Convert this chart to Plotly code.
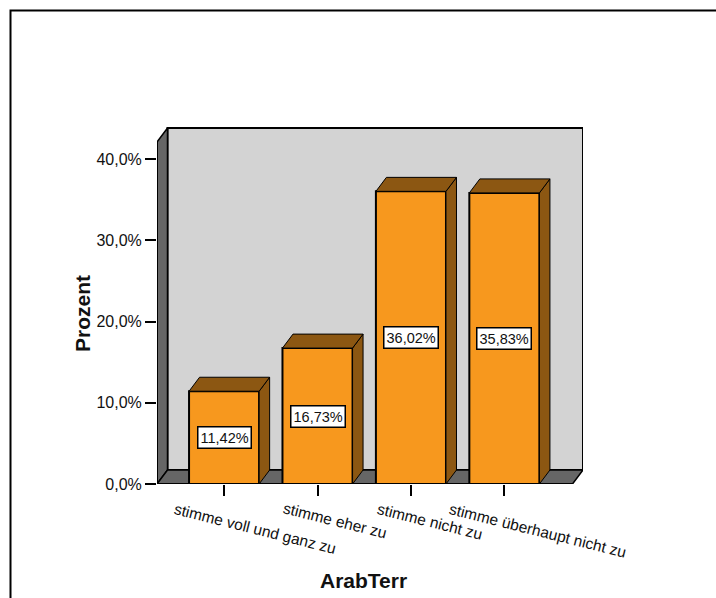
import math
import plotly.graph_objects as go

# ---- data ---------------------------------------------------------------
categories = [
    "stimme voll und ganz zu",
    "stimme eher zu",
    "stimme nicht zu",
    "stimme überhaupt nicht zu",
]
percent = [11.42, 16.73, 36.02, 35.83]
y_ticks = [0, 10, 20, 30, 40]

x_title = "ArabTerr"
y_title = "Prozent"

# ---- styling ------------------------------------------------------------
FONT = "Liberation Sans, Arial, sans-serif"
FRONT = "#F7981E"      # bar front face
SHADE = "#8C5712"      # bar side / top faces
WALL = "#D3D3D3"       # back wall
FLOOR = "#666666"      # floor and side wall
TEXT = "#111111"

W, H = 716, 598
L_PX, R_PX, T_PX, B_PX = 157, 583, 127, 484   # plot area in pixels

BAR_W = 0.75           # bar width in category units
DX = 0.1125            # depth offset, x (category units)
DY = 1.72              # depth offset, y (percent)
X_LEFT = -0.718        # front-left edge of the floor
X_RIGHT = 3.729        # front-right edge of the floor
WALL_TOP = 42.1        # height of the front edge of the side wall
Y_MAX = 43.94

x_pos = list(range(len(categories)))


def pct(v, digits):
    return f"{v:.{digits}f}".replace(".", ",") + "%"


def px_to_paper_x(px):
    return (px - L_PX) / (R_PX - L_PX)


def px_to_paper_y(py):
    return (B_PX - py) / (B_PX - T_PX)


fig = go.Figure()

# front faces of the bars
fig.add_trace(go.Bar(
    x=x_pos, y=percent, width=BAR_W,
    marker=dict(color=FRONT, line=dict(color="black", width=2)),
    hoverinfo="skip", showlegend=False,
))

# side and top faces of the bars
side_x, side_y, top_x, top_y = [], [], [], []
for xc, v in zip(x_pos, percent):
    lft, rgt = xc - BAR_W / 2, xc + BAR_W / 2
    side_x += [rgt, rgt + DX, rgt + DX, rgt, rgt, None]
    side_y += [0, DY, v + DY, v, 0, None]
    top_x += [lft, lft + DX, rgt + DX, rgt, lft, None]
    top_y += [v, v + DY, v + DY, v, v, None]

for xs, ys in ((side_x, side_y), (top_x, top_y)):
    fig.add_trace(go.Scatter(
        x=xs, y=ys, mode="lines", fill="toself", fillcolor=SHADE,
        line=dict(color="black", width=1), hoverinfo="skip",
        showlegend=False,
    ))

# walls and floor, beneath the bars
shapes = [
    dict(type="rect", xref="x", yref="y", layer="below",
         x0=X_LEFT + DX, x1=X_RIGHT + DX, y0=DY, y1=WALL_TOP + DY,
         fillcolor=WALL, line=dict(color="black", width=2)),
    dict(type="path", xref="x", yref="y", layer="below",
         path=(f"M {X_LEFT},0 L {X_LEFT},{WALL_TOP} "
               f"L {X_LEFT + DX},{WALL_TOP + DY} L {X_LEFT + DX},{DY} Z"),
         fillcolor=FLOOR, line=dict(color="black", width=1.5)),
    dict(type="path", xref="x", yref="y", layer="below",
         path=(f"M {X_LEFT},0 L {X_RIGHT},0 "
               f"L {X_RIGHT + DX},{DY} L {X_LEFT + DX},{DY} Z"),
         fillcolor=FLOOR, line=dict(color="black", width=1.5)),
    # front edges (axis lines)
    dict(type="line", xref="x", yref="y", layer="above",
         x0=X_LEFT, x1=X_LEFT, y0=0, y1=WALL_TOP,
         line=dict(color="black", width=2)),
    dict(type="line", xref="x", yref="y", layer="above",
         x0=X_LEFT, x1=X_RIGHT, y0=0, y1=0,
         line=dict(color="black", width=2)),
    # outer frame
    dict(type="rect", xref="paper", yref="paper", layer="above",
         x0=px_to_paper_x(10.5), x1=px_to_paper_x(760),
         y0=px_to_paper_y(640), y1=px_to_paper_y(10.5),
         line=dict(color="black", width=2), fillcolor="rgba(0,0,0,0)"),
]

annotations = []

# value labels in the middle of each bar
for xc, v in zip(x_pos, percent):
    annotations.append(dict(
        x=xc, y=v / 2, xref="x", yref="y", text=pct(v, 2), showarrow=False,
        font=dict(family=FONT, size=14.5, color=TEXT),
        bgcolor="white", bordercolor="black", borderwidth=1.5, borderpad=2,
    ))

# slanted category labels
LABEL_SIZE = 15.5
ANGLE = 14
a = math.radians(ANGLE)
for xc, name in zip(x_pos, categories):
    w = 0.47 * LABEL_SIZE * len(name)
    h = 17
    start_dx = -0.29 * w
    cx = start_dx + (w / 2) * math.cos(a) - (h / 2) * math.sin(a)
    cy = 16 + (w / 2) * math.sin(a) + (h / 2) * math.cos(a)
    annotations.append(dict(
        x=xc, y=0, xref="x", yref="y", text=name, showarrow=False,
        textangle=ANGLE, xanchor="center", yanchor="middle",
        xshift=cx, yshift=-cy,
        font=dict(family=FONT, size=LABEL_SIZE, color=TEXT),
    ))

# axis titles
annotations.append(dict(
    x=px_to_paper_x(82), y=px_to_paper_y(314), xref="paper", yref="paper",
    text=f"<b>{y_title}</b>", textangle=-90, showarrow=False,
    xanchor="center", yanchor="middle",
    font=dict(family=FONT, size=21, color=TEXT),
))
annotations.append(dict(
    x=px_to_paper_x(363), y=px_to_paper_y(580), xref="paper", yref="paper",
    text=f"<b>{x_title}</b>", showarrow=False,
    xanchor="center", yanchor="middle",
    font=dict(family=FONT, size=21, color=TEXT),
))

fig.update_layout(
    width=W, height=H,
    margin=dict(l=L_PX, r=W - R_PX, t=T_PX, b=H - B_PX, pad=0),
    paper_bgcolor="white", plot_bgcolor="white",
    font=dict(family=FONT, color=TEXT),
    showlegend=False,
    shapes=shapes, annotations=annotations,
    xaxis=dict(
        range=[X_LEFT, X_RIGHT + DX], tickmode="array", tickvals=x_pos,
        ticktext=["" for _ in x_pos], ticks="outside", ticklen=11,
        tickwidth=2, tickcolor="black", showgrid=False, zeroline=False,
        showline=False, fixedrange=True,
    ),
    yaxis=dict(
        range=[0, Y_MAX], tickmode="array", tickvals=y_ticks,
        ticktext=[pct(t, 1) for t in y_ticks], ticks="outside", ticklen=11,
        tickwidth=2, tickcolor="black", showgrid=False, zeroline=False,
        showline=False, fixedrange=True,
        tickfont=dict(family=FONT, size=16, color=TEXT),
    ),
)

fig.write_html("out.html")
